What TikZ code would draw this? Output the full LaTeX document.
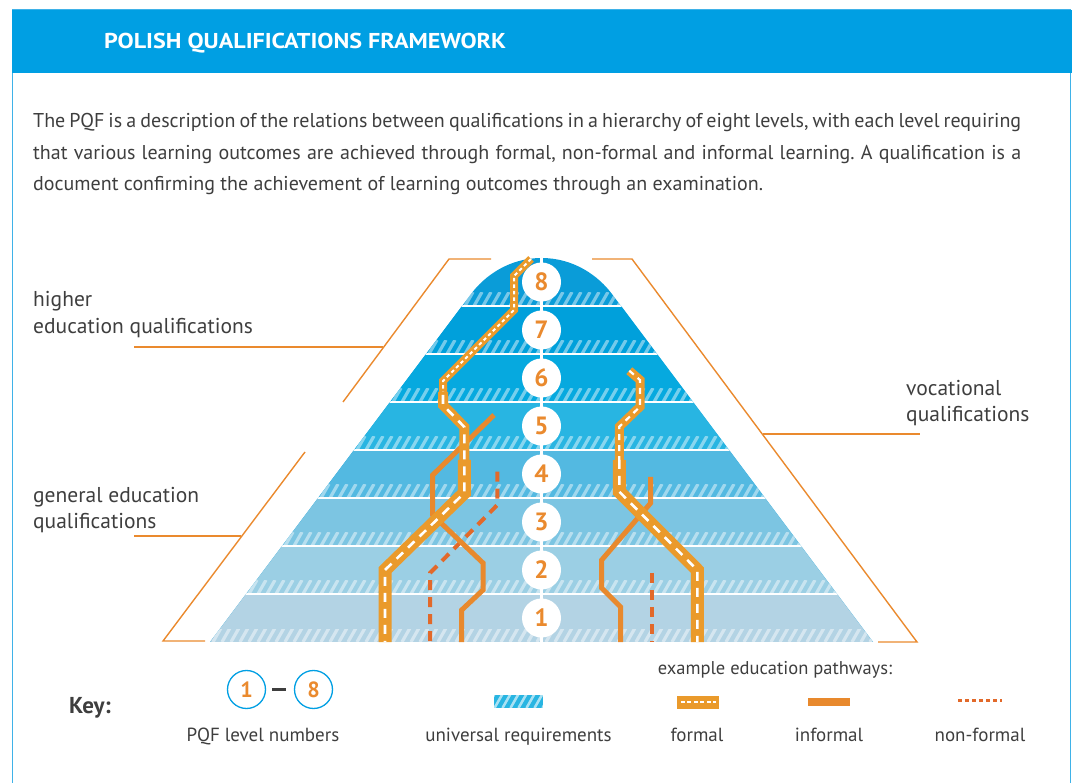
\documentclass[tikz,border=0pt]{standalone}
\usepackage{fontspec}
\setmainfont{PT Sans}
\usetikzlibrary{positioning}
\frenchspacing

% colours
\definecolor{pqfblue}{HTML}{009FE3}
\definecolor{framebl}{HTML}{3FB2E8}
\definecolor{textgray}{HTML}{3E3E3E}
\definecolor{roadorange}{HTML}{EA9A2B}
\definecolor{trackorange}{HTML}{E8892D}
\definecolor{dashorange}{HTML}{E2692A}
\definecolor{numorange}{HTML}{EA8A2E}
\definecolor{lvlA}{HTML}{B3D3E4}
\definecolor{lvlB}{HTML}{9BCFE4}
\definecolor{lvlC}{HTML}{7CC5E2}
\definecolor{lvlD}{HTML}{53B9E1}
\definecolor{lvlE}{HTML}{28B5E2}
\definecolor{lvlF}{HTML}{06A9DF}
\definecolor{lvlG}{HTML}{00A0DB}
\definecolor{lvlH}{HTML}{0A9CD8}

\tikzstyle{formal} = [draw=roadorange, line join=miter]
\tikzstyle{formalmark} = [draw=white, line width=2.6pt]
\tikzstyle{informal} = [draw=trackorange, line width=5pt, line join=miter]
\tikzstyle{nonformal} = [draw=dashorange, line width=4pt, dash pattern=on 10pt off 7pt]
\tikzstyle{bracket} = [draw=numorange, line width=1.4pt]
\tikzstyle{hatch} = [draw=white, draw opacity=0.45, line width=3.2pt]
\tikzstyle{levelnum} = [circle, fill=white, minimum size=39pt, inner sep=0pt,
  text=numorange, font=\bfseries\fontsize{25}{25}\selectfont]
\tikzstyle{keynum} = [circle, draw=pqfblue, line width=1.3pt, fill=white, minimum size=38pt,
  inner sep=0pt, text=numorange, font=\bfseries\fontsize{22}{22}\selectfont]
\tikzstyle{label} = [anchor=base west, inner sep=0pt, text=textgray, font=\fontsize{21.5}{24}\selectfont]
\tikzstyle{keytext} = [anchor=base, inner sep=0pt, text=textgray, font=\fontsize{19}{22}\selectfont]

\begin{document}
\begin{tikzpicture}[x=1pt,y=-1pt]
  \useasboundingbox (0,0) rectangle (1072,783);

  % frame and header
  \draw[framebl, line width=1.5pt] (12.5,10) rectangle (1070.5,800);
  \fill[pqfblue] (12,10) rectangle (1072,73);
  \node[anchor=base west, inner sep=0pt, text=white, font=\bfseries\fontsize{21.5}{24}\selectfont]
    (title) at (104,49) {\scalebox{1.12}[1]{POLISH QUALIFICATIONS FRAMEWORK}};

  % intro text
  \node[label, font=\fontsize{20}{24}\selectfont] (introa) at (33,128)
    {\makebox[988pt][s]{The PQF is a description of the relations between qualifications in a hierarchy of eight levels, with each level requiring}};
  \node[label, font=\fontsize{20}{24}\selectfont] (introb) at (33,160)
    {\makebox[988pt][s]{that various learning outcomes are achieved through formal, non-formal and informal learning. A qualification is a}};
  \node[label, font=\fontsize{20}{24}\selectfont] (introc) at (33,191)
    {document confirming the achievement of learning outcomes through an examination.};

  % pyramid of levels
  \begin{scope}
    \clip (210,642) -- (462,306) -- (470.5,294.7) .. controls (485,275) and (510,258) .. (541.5,258)
      .. controls (573,258) and (598,275) .. (612.5,294.7) -- (621,306) -- (873,642) -- cycle;
    \fill[lvlH] (150,250) rectangle (930,642);
    \foreach \n/\col in {1/lvlA,2/lvlB,3/lvlC,4/lvlD,5/lvlE,6/lvlF,7/lvlG}
      \fill[\col] (150,{642-48*\n}) rectangle (930,{642-48*(\n-1)});
    \foreach \n in {1,...,8} {
      \pgfmathsetmacro{\yb}{642-48*(\n-1)}
      \begin{scope}
        \clip (150,\yb-13) rectangle (930,\yb-1);
        \foreach \s in {150,159,...,930}
          \draw[hatch] (\s,\yb) -- ++(8,-14);
      \end{scope}
    }
    \foreach \n in {1,...,7}
      \draw[white, line width=2pt] (150,{642-48*\n}) -- (930,{642-48*\n});
    \draw[white, line width=3.5pt] (541.5,250) -- (541.5,642);
  \end{scope}

  % level numbers
  \foreach \n in {1,...,8}
    \node[levelnum] (lvl\n) at (541.5,{666-48*\n}) {\n};

  % brackets and labels
  \draw[bracket] (134,347) -- (383,347);
  \draw[bracket] (343,402) -- (449,259) -- (491,259);
  \draw[bracket] (134,536) -- (241,536);
  \draw[bracket] (305,452) -- (163,641) -- (205,641);
  \draw[bracket] (592,259) -- (632,259) -- (917,642) -- (878,642);
  \draw[bracket] (763,434) -- (920,434);
  \node[label] (higher) at (33,307) {higher};
  \node[label] (higherb) at (33,334) {education qualifications};
  \node[label] (general) at (33,503) {general education};
  \node[label] (generalb) at (33,529) {qualifications};
  \node[label] (voc) at (906,396) {vocational};
  \node[label] (vocb) at (906,422) {qualifications};

  % pathways, left side
  \draw[nonformal] (497.3,471.7) -- (497.3,505) -- (430,573) -- (430,642);
  \draw[informal] (494,415) -- (432.7,475) -- (432.7,515) -- (483,563) -- (483,590)
    -- (461.7,610) -- (461.7,642);
  \draw[formal, line width=8pt] (531,259) -- (514,276) -- (514,310) -- (443,381) -- (443,395);
  \draw[formalmark, line width=2pt, dash pattern=on 3.5pt off 3pt] (531,259) -- (514,276) -- (514,310)
    -- (443,381) -- (443,395);
  \draw[formal, line width=10pt] (443,392) -- (443,405) -- (464.3,427) -- (464.3,462);
  \draw[formal, line width=13pt] (464.3,460) -- (464.3,493) -- (385,570) -- (385,642);
  \draw[formalmark, dash pattern=on 9pt off 7pt] (443,395) -- (443,405) -- (464.3,427) -- (464.3,493)
    -- (385,570) -- (385,642);

  % pathways, right side
  \draw[nonformal] (652.3,573) -- (652.3,642);
  \draw[informal] (650.7,477) -- (650.7,503) -- (601.7,560) -- (601.7,588) -- (620.7,607)
    -- (620.7,642);
  \draw[formal, line width=9pt] (629.3,370.7) -- (640,380) -- (640,406.7) -- (619.3,426.7) -- (619.3,462);
  \draw[formal, line width=13pt] (619.3,460) -- (619.3,491.7) -- (697.3,570) -- (697.3,642);
  \draw[formalmark, line width=2.2pt, dash pattern=on 6pt off 5pt] (629.3,370.7) -- (640,380)
    -- (640,406.7) -- (619.3,426.7) -- (619.3,460);
  \draw[formalmark, dash pattern=on 9pt off 7pt] (619.3,460) -- (619.3,491.7) -- (697.3,570)
    -- (697.3,642);

  % key
  \node[anchor=base, inner sep=0pt, text=textgray, font=\bfseries\fontsize{23}{26}\selectfont]
    (key) at (90,713) {Key:};
  \node[keynum] (kone) at (246.5,689.5) {1};
  \node[keynum] (keight) at (313.5,689.5) {8};
  \draw[textgray, line width=3.5pt, shorten <=6pt, shorten >=8pt] (kone) -- (keight);
  \node[keytext] (klevel) at (263,741) {PQF level numbers};

  \node[fill=lvlE, minimum width=49pt, minimum height=13pt, inner sep=0pt,
    path picture={\foreach \s in {-32,-24,...,32}
      \draw[white, draw opacity=0.6, line width=2.5pt]
        ([xshift=\s pt]path picture bounding box.south) -- ++(8,-14);}]
    (kuniv) at (518.5,701.5) {};
  \node[keytext] (kunivt) at (518.5,741) {universal requirements};

  \node[keytext, font=\fontsize{18.5}{20}\selectfont] (kpaths) at (775,674) {example education pathways:};
  \node[fill=roadorange, minimum width=42pt, minimum height=13pt, inner sep=0pt] (kformal) at (698,702) {};
  \draw[formalmark, line width=2.5pt, dash pattern=on 4pt off 2.5pt, shorten <=4pt, shorten >=3pt]
    (kformal.west) -- (kformal.east);
  \node[keytext] (kformalt) at (697,741) {formal};
  \node[fill=trackorange, minimum width=42pt, minimum height=8pt, inner sep=0pt] (kinformal) at (829,701.5) {};
  \node[keytext] (kinformalt) at (829,741) {informal};
  \node[minimum width=43pt, minimum height=3pt, inner sep=0pt] (knonformal) at (980,700) {};
  \draw[dashorange, line width=3pt, dash pattern=on 4pt off 3pt] (knonformal.west) -- (knonformal.east);
  \node[keytext] (knonformalt) at (980,741) {non-formal};
\end{tikzpicture}
\end{document}
